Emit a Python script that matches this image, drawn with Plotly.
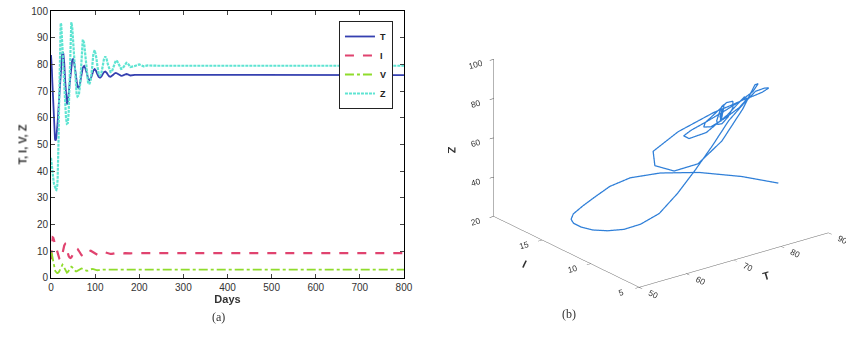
import plotly.graph_objects as go

# ---- data ----
days = [0, 1, 2, 3, 4, 5, 6, 7, 8, 9, 10, 11, 12, 13, 14, 15, 16, 17, 18, 19, 20,
        21, 22, 23, 24, 25, 26, 27, 28, 29, 30,
        32, 34, 36, 38, 40, 42, 44, 46, 48, 50, 52, 54, 56, 58, 60,
        63, 66, 69, 72, 75, 78, 81, 84, 87, 90, 93, 96, 99, 102, 105, 108, 111, 114, 117, 120,
        123, 126, 129, 132, 135, 138, 141, 144, 147, 150, 153, 156, 159, 162, 165, 168, 171, 174, 177, 180,
        190, 200, 210, 220, 240, 270, 300, 400, 500, 600, 700, 800]

T_vals = [83.5, 81.5, 78, 73.5, 69, 64.5, 60, 56.5, 53.5, 52, 51.5, 51.7, 52.5, 54, 56, 58.3, 61, 64, 67, 70, 73,
          76, 78.5, 80.8, 82.5, 83.7, 84.3, 84.5, 84, 82.5, 80.5,
          74, 67.5, 65, 66, 69, 73, 77, 80, 81.7, 82, 81, 79, 76.5, 73.5, 71.5,
          71.2, 73, 76, 78.8, 79.4, 78.5, 76.8, 74.8, 74.1, 74.6, 76, 77.7, 78.2, 77.6, 76.4, 75.3, 75, 75.4, 76.3, 77.1,
          77.3, 76.9, 76.1, 75.5, 75.4, 75.6, 76.1, 76.6, 76.8, 76.6, 76.2, 75.8, 75.7, 75.8, 76.1, 76.35, 76.4, 76.25, 76, 75.85,
          76.1, 76.1, 75.95, 76, 76, 76, 76, 76, 76, 76, 76, 76]

I_vals = [7, 9.8, 12.5, 14.3, 15.2, 15.1, 14.5, 14, 13.5, 13, 12.5, 11.8, 11, 10.2, 9.5, 8.9, 8.3, 7.9, 7.5, 7.2, 7,
          6.9, 6.9, 7.1, 7.5, 8.2, 9, 9.9, 10.8, 11.5, 12.2,
          12.7, 12.1, 10.7, 9.2, 8.2, 7.7, 7.5, 7.7, 8.2, 8.9, 9.7, 10.4, 10.9, 11.1, 10.9,
          10.2, 9.3, 8.6, 8.2, 8.2, 8.6, 9.2, 9.7, 10.1, 10.2, 9.9, 9.5, 9.1, 8.8, 8.7, 8.8, 9.1, 9.4, 9.6, 9.7,
          9.6, 9.4, 9.2, 9.05, 9.0, 9.05, 9.2, 9.35, 9.45, 9.45, 9.35, 9.25, 9.15, 9.15, 9.2, 9.3, 9.35, 9.35, 9.3, 9.25,
          9.3, 9.32, 9.3, 9.3, 9.3, 9.3, 9.3, 9.3, 9.3, 9.3, 9.3, 9.3]

V_vals = [9.5, 9.4, 9, 8.1, 7, 6, 5, 4.2, 3.5, 3, 2.5, 2.2, 2, 1.9, 1.8, 1.8, 1.9, 2.1, 2.3, 2.6, 3,
          3.5, 4, 4.4, 4.8, 4.95, 5, 4.8, 4.5, 4.1, 3.6,
          2.8, 2.2, 2, 2.2, 2.8, 3.5, 4, 4.2, 4, 3.6, 3.1, 2.7, 2.5, 2.5, 2.7,
          3.1, 3.5, 3.6, 3.4, 3.1, 2.8, 2.7, 2.8, 3.0, 3.3, 3.35, 3.3, 3.1, 2.95, 2.9, 2.95, 3.05, 3.15, 3.2, 3.15,
          3.1, 3.05, 3.0, 3.0, 3.05, 3.1, 3.1, 3.1, 3.05, 3.0, 3.05, 3.1, 3.1, 3.1, 3.1, 3.1, 3.1, 3.1, 3.1, 3.1,
          3.1, 3.1, 3.1, 3.1, 3.1, 3.1, 3.1, 3.1, 3.1, 3.1, 3.1, 3.1]

Z_vals = [45, 43, 41, 39.5, 38, 37, 36, 35.2, 34.5, 34, 33.5, 33.1, 33, 33.5, 34.5, 37, 42, 51, 62, 73, 84,
          91, 95.5, 95, 93, 90, 86, 82, 78, 74.2, 70.5,
          64, 60, 57.8, 58, 62, 72, 86, 95.8, 94, 88, 82, 76.5, 72, 69, 68,
          68.5, 72.5, 81, 89.3, 88, 83, 77.5, 73.2, 72.6, 74.2, 78.5, 84, 85.3, 83.2, 79.6, 76.6, 75.7, 76.6, 79.2, 82,
          83, 82, 80, 78.1, 77.1, 77.3, 78.6, 80.5, 81.5, 81.2, 80, 78.9, 78.3, 78.4, 79.1, 80.2, 80.6, 80.4, 79.7, 79,
          79.4, 80, 79.3, 79.6, 79.5, 79.5, 79.5, 79.5, 79.5, 79.5, 79.5, 79.5]

series_names = ["T", "I", "V", "Z"]
series_colors = ["#3540b0", "#e0436f", "#8fdc2c", "#5ee4d2"]
series_dash = ["solid", "dash", "dashdot", "3px,1px"]
series_width = [1.8, 2.2, 1.8, 2.2]

x_ticks = [0, 100, 200, 300, 400, 500, 600, 700, 800]
y_ticks = [0, 10, 20, 30, 40, 50, 60, 70, 80, 90, 100]
T3_ticks = [50, 60, 70, 80, 90]
I3_ticks = [5, 10, 15, 20]
Z3_ticks = [20, 40, 60, 80, 100]

fig = go.Figure()

for name, vals, col, dash, w in zip(series_names, [T_vals, I_vals, V_vals, Z_vals],
                                    series_colors, series_dash, series_width):
    fig.add_trace(go.Scatter(x=days, y=vals, mode="lines", name="<b>%s</b>" % name,
                             line=dict(color=col, dash=dash, width=w),
                             xaxis="x", yaxis="y"))

fig.add_trace(go.Scatter3d(x=T_vals, y=I_vals, z=Z_vals, mode="lines",
                           line=dict(color="#2f7fd8", width=2.5), showlegend=False,
                           scene="scene"))

tickfont = dict(family="Liberation Sans, Arial", size=10, color="#333")
titlefont = dict(family="Liberation Sans, Arial", size=11, color="#333")

# camera: MATLAB-like view (az -37.5 deg, el ~22 deg), orthographic
r = 3.0
k = 1.53
view_dir = (-0.565, -0.735, 0.375)
cam_center = (-0.07, 0.057, -0.07)
eye = tuple(r * d + c for d, c in zip(view_dir, cam_center))

fig.update_layout(
    width=846, height=344,
    margin=dict(l=0, r=0, t=0, b=0),
    paper_bgcolor="white", plot_bgcolor="white",
    xaxis=dict(domain=[0.0603, 0.4775], range=[0, 800], tickvals=x_ticks,
               ticks="inside", ticklen=4, mirror="allticks", showline=True,
               linecolor="black", linewidth=1, showgrid=False, zeroline=False,
               tickfont=tickfont, automargin=False,
               title=dict(text="<b>Days</b>", font=titlefont, standoff=2)),
    yaxis=dict(domain=[0.1919, 0.968], range=[0, 100], tickvals=y_ticks,
               ticks="inside", ticklen=4, mirror="allticks", showline=True,
               linecolor="black", linewidth=1, showgrid=False, zeroline=False,
               tickfont=tickfont, automargin=False,
               title=dict(text="<b>T, I, V, Z</b>", font=titlefont, standoff=1)),
    legend=dict(x=0.4645, y=0.939, xanchor="right", yanchor="top",
                bgcolor="white", bordercolor="#222", borderwidth=1,
                font=dict(family="Liberation Sans, Arial", size=9, color="#222"),
                itemwidth=30, tracegroupgap=0),
    scene=dict(
        domain=dict(x=[0.53, 1.0], y=[0.093, 1.0]),
        aspectmode="manual", aspectratio=dict(x=k, y=k, z=0.71 * k),
        camera=dict(eye=dict(x=eye[0], y=eye[1], z=eye[2]),
                    up=dict(x=0, y=0, z=1),
                    center=dict(x=cam_center[0], y=cam_center[1], z=cam_center[2]),
                    projection=dict(type="orthographic")),
        xaxis=dict(title=dict(text="<b>T</b>", font=titlefont), range=[50, 90], tickvals=T3_ticks,
                   showbackground=False, showgrid=False, zeroline=False, showline=True,
                   linecolor="#666", ticks="outside", tickfont=tickfont, showspikes=False),
        yaxis=dict(title=dict(text="<b>I</b>", font=titlefont), range=[5, 20], tickvals=I3_ticks,
                   showbackground=False, showgrid=False, zeroline=False, showline=True,
                   linecolor="#666", ticks="outside", tickfont=tickfont, showspikes=False),
        zaxis=dict(title=dict(text="<b>Z</b>", font=titlefont), range=[20, 100], tickvals=Z3_ticks,
                   showbackground=False, showgrid=False, zeroline=False, showline=True,
                   linecolor="#666", ticks="outside", tickfont=tickfont, showspikes=False),
    ),
    annotations=[
        dict(text="(a)", x=210 / 846, y=1 - 326 / 344, xref="paper", yref="paper",
             showarrow=False, font=dict(family="Liberation Serif", size=12, color="#333")),
        dict(text="(b)", x=578 / 846, y=1 - 323 / 344, xref="paper", yref="paper",
             showarrow=False, font=dict(family="Liberation Serif", size=12, color="#333")),
    ],
)

fig.write_html("out.html", config={"displayModeBar": False},
               post_script="document.body.style.margin='0';")
